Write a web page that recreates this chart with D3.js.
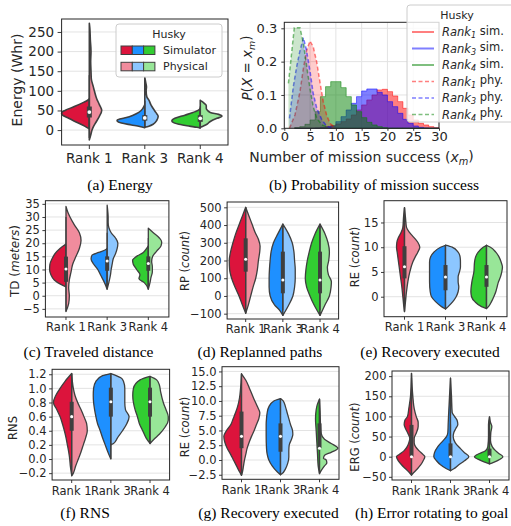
<!DOCTYPE html>
<html>
<head>
<meta charset="utf-8">
<script src="https://cdn.jsdelivr.net/npm/d3@7"></script>
<style>
  body { margin: 0; background: #fff; }
  text { font-family: "DejaVu Sans", sans-serif; fill: #262626; }
  text.cap { font-family: "Liberation Serif", "Times New Roman", serif; fill: #000; font-size: 15.5px; }
</style>
</head>
<body>
<svg id="fig" width="511" height="526"></svg>
<script>
const ranks = ["Rank 1", "Rank 3", "Rank 4"];
const simColors = ["#dc143c", "#1e90ff", "#32cd32"];
const phyColors = ["#f08c9d", "#8cc6ff", "#98e698"];
const histColors = ["#ff0000", "#0000ff", "#008000"];
const edge = "#3f3f3f";

// violin halves: [value, relative density] from bottom to top, one list per rank
// boxes: [whisker low, q1, median, q3, whisker high]

// (a) Energy (Whr)
const energySim = [
  [[3,0],[10,14],[20,38],[30,62],[38,80],[43,83],[47,80],[50,73],[60,45],[70,19],[76,5],[80,0]],
  [[6,0],[9,15],[13,40],[18,70],[22,82],[25,83],[28,75],[32,55],[38,35],[45,18],[55,6],[65,0]],
  [[5,0],[7,10],[10,32],[15,64],[19,80],[23,85],[27,82],[30,76],[38,46],[47,15],[52,3],[55,0]]
];
const energyPhy = [
  [[-25,0],[-10,5],[0,8],[10,13],[20,20],[35,30],[50,37],[65,30],[80,22],[100,15],[110,12],[130,6],[150,5],[175,4],[200,5],[230,3],[260,1.5],[272,0]],
  [[7,0],[10,12],[15,25],[25,36],[35,40],[45,33],[55,25],[65,18],[75,13],[85,6],[100,4],[110,5],[120,3],[134,0]],
  [[7,0],[10,8],[15,20],[22,30],[30,50],[35,65],[40,55],[45,30],[50,22],[55,18],[62,18],[68,12],[73,5],[76,0]]
];
const energyBox = [[-20,32,46,60,140],[8,24,31,38,75],[8,21,30,38,60]];

// (b) probability of mission success
const simBins = [2,3,4,5,6,7,8,9,10,11,12,13,14,15,16,17,18,19,20,21,22,23,24,25,26,27,28,29];
const rank1Sim = [0,0,0,0,0.001,0.003,0.005,0.008,0.013,0.02,0.028,0.04,0.055,0.07,0.085,0.1,0.115,0.117,0.11,0.097,0.08,0.06,0.04,0.025,0.015,0.01,0.005,0.002];
const rank3Sim = [0,0,0,0,0.001,0.002,0.004,0.007,0.02,0.035,0.055,0.075,0.095,0.112,0.118,0.118,0.108,0.1,0.08,0.065,0.045,0.027,0.015,0.007,0.003,0.001,0,0];
const rank4Sim = [0.002,0.005,0.012,0.025,0.05,0.095,0.125,0.14,0.14,0.122,0.095,0.07,0.05,0.032,0.018,0.01,0.005,0.002,0,0,0,0,0,0,0,0,0,0];
const rank1PhyX = [1,2.07,3.04,3.7,4.35,4.98,5.6,6.27,6.9,7.55,8.2,8.85,9.8];
const rank1PhyP = [0,0.04,0.11,0.18,0.235,0.262,0.245,0.2,0.14,0.08,0.04,0.015,0.003];
const rank3PhyX = [1,1.75,2.4,3.0,3.7,4.3,5.0,5.6,6.3,7.3,8.2,9.5];
const rank3PhyP = [0.03,0.125,0.185,0.23,0.272,0.235,0.17,0.105,0.06,0.025,0.007,0];
const rank4PhyX = [0.8,1.94,3.04,3.7,4.3,4.97,5.6,6.3,7.3,8.5];
const rank4PhyP = [0.135,0.302,0.302,0.255,0.19,0.12,0.065,0.03,0.01,0.003];
const histXTicks = [0,5,10,15,20,25,30];
const histYTicks = [0,0.1,0.2,0.3];

// (c) Traveled distance
const tdSim = [
  [[3.4,0],[4.5,18],[6,35],[8,45],[10,49],[12,48],[14,42],[16,33],[18,18],[19.7,0]],
  [[2.5,0],[5,8],[8,20],[10,28],[12,40],[14,48],[15.5,45],[16.5,25],[17.5,5],[18,0]],
  [[2.5,0],[5,12],[6.5,28],[8,25],[10,35],[12,45],[13.5,47],[15,35],[16.5,15],[18,5],[19,0]]
];
const tdPhy = [
  [[-6,0],[-3,8],[0,10],[3,8],[6,10],[9,15],[12,20],[15,30],[18,40],[21,45],[24,40],[27,25],[30,12],[32,5],[34,0]],
  [[2.5,0],[5,5],[8,10],[10,12],[12,15],[14,18],[16,25],[18,30],[20,32],[22,25],[24,12],[26,5],[28,3],[30,3],[32,2],[34.5,0]],
  [[2.5,0],[5,5],[7,8],[9,12],[11,12],[13,10],[15,13],[17,25],[19,38],[20.5,40],[22,33],[24,15],[25.7,0]]
];
const tdBox = [[-6,5.3,10.2,14.9,30],[3,9.5,13.2,15,24],[3,9.5,12.3,15,22]];

// (d) Replanned paths
const rpSim = [
  [[-98,0],[-50,10],[0,20],[50,32],[100,42],[150,48],[200,49],[250,45],[300,38],[350,30],[400,20],[450,10],[500,0]],
  [[-110,0],[-80,10],[-50,25],[0,38],[50,41],[100,41],[150,40],[200,38],[250,35],[300,28],[350,15],[405,0]],
  [[-110,0],[-50,18],[0,30],[50,40],[100,44],[150,42],[200,38],[250,32],[300,25],[350,15],[405,0]]
];
const rpPhy = [
  [[-98,0],[-50,8],[0,15],[50,22],[100,30],[150,35],[200,38],[250,42],[280,43],[320,38],[360,28],[400,20],[450,10],[500,0]],
  [[-110,0],[-50,18],[0,30],[50,35],[100,37],[150,37],[200,35],[250,33],[300,28],[350,17],[405,0]],
  [[-110,0],[-50,15],[0,28],[50,33],[80,34],[120,25],[160,22],[200,26],[250,28],[300,24],[350,15],[405,0]]
];
const rpBox = [[-98,137,207,325,500],[-80,15,90,250,400],[-80,15,90,250,400]];

// (e) Recovery executed
const reSim = [
  [[-3,0],[-2,2],[0,5],[2,8],[4,12],[6,16],[8,20],[9,22],[10,24],[11,23],[12,18],[13,10],[14,5],[16,3],[18,0]],
  [[-2.5,0],[-2,12],[-1,30],[0,42],[1,46],[3,48],[5,48],[7,48],[8,45],[9,35],[10,15],[10.4,0]],
  [[-2.4,0],[-2,15],[-1,35],[0,45],[1,47],[3,44],[5,38],[7,36],[8,33],[9,25],[10,10],[10.4,0]]
];
const rePhy = [
  [[-3,0],[-1,3],[1,6],[3,10],[5,16],[7,25],[8,32],[9,40],[10,46],[11,40],[12,28],[13,15],[14,6],[16,3],[18,0]],
  [[-2.5,0],[-2,8],[-1,22],[0,32],[1,38],[2,40],[3,38],[4,38],[5,42],[6,45],[7,45],[8,44],[9,38],[10,20],[10.4,0]],
  [[-2.4,0],[-2,6],[-1,15],[0,22],[1,28],[2,32],[3,36],[4,42],[5,46],[6,48],[7,44],[8,38],[9,28],[10,12],[10.4,0]]
];
const reBox = [[-3,3.7,6.05,10.2,18],[-2.5,1.3,4,6.4,10.4],[-2.4,2,4,6.4,10.4]];

// (f) RNS
const rnsSim = [
  [[-0.23,0],[-0.1,4],[0,6],[0.1,9],[0.2,13],[0.3,17],[0.4,22],[0.5,28],[0.6,35],[0.7,45],[0.8,55],[0.9,48],[1.0,35],[1.1,20],[1.21,0]],
  [[0,0],[0.1,9],[0.2,17],[0.3,25],[0.4,32],[0.5,40],[0.6,45],[0.7,49],[0.8,52],[0.9,53],[1.0,52],[1.1,45],[1.18,25],[1.21,0]],
  [[0.22,0],[0.3,12],[0.4,22],[0.5,32],[0.6,38],[0.7,45],[0.8,50],[0.9,52],[1.0,50],[1.12,30],[1.17,0]]
];
const rnsPhy = [
  [[-0.24,0],[-0.2,5],[-0.1,12],[0,20],[0.1,28],[0.2,35],[0.3,42],[0.4,47],[0.5,45],[0.6,37],[0.7,28],[0.8,18],[0.9,10],[1.0,5],[1.1,2],[1.21,0]],
  [[0.2,0],[0.22,8],[0.3,20],[0.4,35],[0.5,48],[0.6,55],[0.7,44],[0.8,42],[0.9,42],[1.0,42],[1.1,38],[1.15,30],[1.21,0]],
  [[0.22,0],[0.28,12],[0.35,28],[0.45,45],[0.55,55],[0.6,55],[0.7,48],[0.8,40],[0.95,32],[1.05,28],[1.12,20],[1.17,0]]
];
const rnsBox = [[-0.23,0.4,0.6,0.81,1.21],[0,0.6,0.81,1.01,1.21],[0.22,0.6,0.81,1.01,1.17]];

// (g) Recovery executed
const re2Sim = [
  [[-2.6,0],[-2,6],[-1,15],[0,24],[1,33],[2,43],[3,50],[4,53],[5,45],[6,32],[7,25],[8,18],[9,12],[10.5,6],[12,3],[14.6,0]],
  [[-2.5,0],[-2,10],[-1,25],[0,35],[1,40],[2,42],[4,43],[6,43],[7,42],[8,40],[9,35],[10,20],[10.4,0]],
  [[-2.3,0],[-1,4],[1,6],[3,8],[5,10],[7,12],[8.5,10],[9.5,6],[10.3,0]]
];
const re2Phy = [
  [[-2.6,0],[-2,3],[-1,6],[0,9],[1,13],[2,17],[3,23],[4,30],[5,38],[6,45],[7,52],[8,55],[9,48],[10.5,36],[12,25],[13.5,13],[14.6,0]],
  [[-2.5,0],[-2.3,5],[-1.5,15],[-0.5,22],[0.5,25],[1.5,25],[2.5,26],[3.5,33],[4.3,37],[5,36],[6,30],[7,25],[8,20],[9,15],[10,8],[10.4,0]],
  [[-2.3,0],[-1.8,5],[-1,15],[-0.5,22],[0,20],[0.3,12],[0.8,15],[1.3,35],[2.0,55],[2.8,35],[3.5,15],[4.5,5],[6,3],[8,2],[10.3,0]]
];
const re2Box = [[-2.6,2,4,8.2,14.6],[-2.5,1.4,4,6.2,10.4],[-2.3,2,2,6.2,10.3]];

// (h) Error rotating to goal
const ergSim = [
  [[-46,0],[-40,6],[-30,18],[-20,30],[-10,40],[0,45],[5,38],[15,22],[25,13],[35,8],[45,5],[60,12],[70,18],[80,22],[90,20],[100,12],[120,8],[150,3],[207,0]],
  [[-35,0],[-30,12],[-20,30],[-10,42],[0,50],[10,48],[25,38],[40,22],[50,12],[60,8],[80,7],[100,6],[150,3],[195,0]],
  [[-18,0],[-14,12],[-8,30],[0,45],[8,30],[15,12],[25,5],[50,3],[80,3],[99,0]]
];
const ergPhy = [
  [[-46,0],[-40,6],[-30,18],[-20,28],[-10,35],[0,40],[5,35],[15,22],[25,12],[35,8],[45,8],[60,15],[75,20],[85,20],[100,14],[120,8],[150,4],[207,0]],
  [[-35,0],[-30,10],[-20,25],[-10,42],[0,55],[10,42],[20,30],[35,14],[50,8],[60,10],[70,16],[80,22],[90,20],[100,12],[110,5],[150,3],[195,0]],
  [[-18,0],[-14,12],[-8,28],[0,40],[8,28],[15,18],[25,8],[40,3],[60,4],[75,7],[85,3],[99,0]]
];
const ergBox = [[-46,0,0,79,195],[-35,0,0,33,80],[-18,0,0,20,50]];

const svg = d3.select("#fig");

function styleAxis(a, fs) {
  a.select(".domain").remove();
  a.attr("font-family", null).attr("font-size", null);
  a.selectAll(".tick line").attr("stroke", "#262626").attr("stroke-width", 0.9);
  a.selectAll(".tick text").style("font-size", fs + "px");
}

// label parts: [text, italic, sub]
function richText(t, parts) {
  parts.forEach(([s, it, sub]) => {
    const sp = t.append("tspan").text(s);
    if (it) sp.style("font-style", "italic");
    if (sub) sp.style("font-size", "0.7em").attr("dy", "0.3em");
    else if (t.property("__sub")) sp.attr("dy", "-0.3em");
    t.property("__sub", !!sub);
  });
  return t;
}

function caption(x, y, s, anchor) {
  svg.append("text").attr("class", "cap").attr("x", x).attr("y", y)
    .attr("text-anchor", anchor || "middle").text(s);
}

function violinPanel(c) {
  const g = svg.append("g");
  const x = d3.scaleBand().domain(ranks).range([c.left, c.right]);
  const y = d3.scaleLinear().domain(c.yDomain).range([c.bottom, c.top]);
  const half = x.bandwidth() / 2;
  const w = d3.scaleLinear().domain([0, c.densMax]).range([0, half]);

  g.append("g").selectAll("line").data(c.yTicks).join("line")
    .attr("x1", c.left).attr("x2", c.right)
    .attr("y1", d => y(d)).attr("y2", d => y(d))
    .attr("stroke", "#e3e3e3").attr("stroke-width", 1);

  ranks.forEach((r, i) => {
    const cx = x(r) + half;
    [[c.sim[i], -1, simColors[i]], [c.phy[i], 1, phyColors[i]]].forEach(([pts, side, col]) => {
      const area = d3.area().curve(d3.curveMonotoneY)
        .y(d => y(d[0])).x0(cx).x1(d => cx + side * w(d[1]));
      g.append("path").attr("d", area(pts)).attr("fill", col)
        .attr("stroke", edge).attr("stroke-width", c.lw).attr("stroke-linejoin", "round");
    });
    const [lo, q1, med, q3, hi] = c.box[i];
    g.append("line").attr("x1", cx).attr("x2", cx).attr("y1", y(lo)).attr("y2", y(hi))
      .attr("stroke", edge).attr("stroke-width", c.lw * 0.9);
    g.append("rect").attr("x", cx - c.boxW / 2).attr("width", c.boxW)
      .attr("y", y(q3)).attr("height", Math.max(1, y(q1) - y(q3))).attr("fill", edge);
    g.append("circle").attr("cx", cx).attr("cy", y(med)).attr("r", c.boxW * 0.38).attr("fill", "#fff");
  });

  g.append("rect").attr("x", c.left).attr("y", c.top)
    .attr("width", c.right - c.left).attr("height", c.bottom - c.top)
    .attr("fill", "none").attr("stroke", "#262626").attr("stroke-width", 1);

  const ax = g.append("g").attr("transform", `translate(0,${c.bottom})`)
    .call(d3.axisBottom(x).tickSize(c.tick).tickPadding(c.xPad));
  styleAxis(ax, c.fs);
  const ay = g.append("g").attr("transform", `translate(${c.left},0)`)
    .call(d3.axisLeft(y).tickValues(c.yTicks).tickFormat(d3.format(c.fmt)).tickSize(c.tick).tickPadding(c.yPad));
  styleAxis(ay, c.fs);

  const t = g.append("text").attr("transform", `translate(${c.labX},${c.labY}) rotate(-90)`)
    .attr("text-anchor", "middle").style("font-size", c.labFs + "px");
  richText(t, c.ylabel);
}

// ---------- (a) Energy ----------
violinPanel({
  left: 61.6, right: 228, top: 19, bottom: 145, yDomain: [-38, 283],
  yTicks: [0, 50, 100, 150, 200, 250], fmt: "d", densMax: 83,
  sim: energySim, phy: energyPhy, box: energyBox,
  lw: 1.6, boxW: 5, tick: 4, xPad: 4.4, yPad: 3.5, fs: 13.5,
  labX: 22, labY: 80, labFs: 14, ylabel: [["Energy (Whr)"]]
});

// legend (a)
{
  const lg = svg.append("g");
  lg.append("rect").attr("x", 116).attr("y", 24).attr("width", 106).attr("height", 53).attr("rx", 3)
    .attr("fill", "#fff").attr("fill-opacity", 0.8).attr("stroke", "#cccccc");
  lg.append("text").attr("x", 169).attr("y", 37.5).attr("text-anchor", "middle").style("font-size", "11px").text("Husky");
  [["Simulator", simColors], ["Physical", phyColors]].forEach(([lab, cols], j) => {
    cols.forEach((col, i) => {
      lg.append("rect").attr("x", 121 + i * 11.3).attr("y", 46 + j * 16.3).attr("width", 11.3).attr("height", 8.5)
        .attr("fill", col).attr("stroke", edge).attr("stroke-width", 1);
    });
    lg.append("text").attr("x", 163).attr("y", 54 + j * 16.3).style("font-size", "11px").text(lab);
  });
}
caption(120, 190, "(a) Energy");

// ---------- (b) Probability of mission success ----------
{
  const g = svg.append("g");
  const L = 284.3, R = 439, T = 22.3, B = 128.3;
  const hx = d3.scaleLinear().domain([0, 30]).range([L, R]);
  const hy = d3.scaleLinear().domain([0, 0.318]).range([B, T]);

  g.append("g").selectAll("line").data(histYTicks).join("line")
    .attr("x1", L).attr("x2", R).attr("y1", d => hy(d)).attr("y2", d => hy(d))
    .attr("stroke", "#e3e3e3");
  g.append("g").selectAll("line").data(histXTicks).join("line")
    .attr("x1", d => hx(d)).attr("x2", d => hx(d)).attr("y1", T).attr("y2", B)
    .attr("stroke", "#e3e3e3");

  const sims = [rank1Sim, rank3Sim, rank4Sim];
  sims.forEach((vals, i) => {
    const pts = simBins.map((k, j) => [k, vals[j]]);
    pts.push([simBins[simBins.length - 1] + 1, 0]);
    const area = d3.area().curve(d3.curveStepAfter)
      .x(d => hx(d[0])).y0(hy(0)).y1(d => hy(d[1]));
    g.append("path").attr("d", area(pts)).attr("fill", histColors[i]).attr("fill-opacity", 0.5)
      .attr("stroke", histColors[i]).attr("stroke-opacity", 0.5).attr("stroke-width", 1);
  });

  const phys = [[rank1PhyX, rank1PhyP], [rank3PhyX, rank3PhyP], [rank4PhyX, rank4PhyP]];
  phys.forEach(([xs, ps], i) => {
    const pts = xs.map((v, j) => [v, ps[j]]);
    const area = d3.area().x(d => hx(d[0])).y0(hy(0)).y1(d => hy(d[1]));
    g.append("path").attr("d", area(pts)).attr("fill", histColors[i]).attr("fill-opacity", 0.2);
    const line = d3.line().x(d => hx(d[0])).y(d => hy(d[1]));
    g.append("path").attr("d", line(pts)).attr("fill", "none").attr("stroke", histColors[i])
      .attr("stroke-opacity", 0.5).attr("stroke-width", 1.5).attr("stroke-dasharray", "4,2.5");
  });

  g.append("rect").attr("x", L).attr("y", T).attr("width", R - L).attr("height", B - T)
    .attr("fill", "none").attr("stroke", "#262626");

  const ax = g.append("g").attr("transform", `translate(0,${B})`)
    .call(d3.axisBottom(hx).tickValues(histXTicks).tickSize(2.5).tickPadding(1.3));
  styleAxis(ax, 13);
  const ay = g.append("g").attr("transform", `translate(${L},0)`)
    .call(d3.axisLeft(hy).tickValues(histYTicks).tickFormat(d3.format(".1f")).tickSize(3).tickPadding(4));
  styleAxis(ay, 13);

  richText(g.append("text").attr("x", 361.5).attr("y", 162).attr("text-anchor", "middle").style("font-size", "14px"),
    [["Number of mission success ("], ["x", true], ["m", true, true], [")"]]);
  richText(g.append("text").attr("transform", "translate(252,68) rotate(-90)").attr("text-anchor", "middle").style("font-size", "13.5px"),
    [["P", true], ["("], ["X", true], [" = "], ["x", true], ["m", true, true], [")"]]);

  // legend (b)
  const lg = svg.append("g");
  lg.append("rect").attr("x", 407).attr("y", 5).attr("width", 112).attr("height", 117).attr("rx", 3)
    .attr("fill", "#fff").attr("fill-opacity", 0.8).attr("stroke", "#cccccc");
  lg.append("text").attr("x", 457).attr("y", 19).attr("text-anchor", "middle").style("font-size", "11px").text("Husky");
  const items = [
    [0, "1", "sim.", null], [1, "3", "sim.", null], [2, "4", "sim.", null],
    [0, "1", "phy.", "4,2.5"], [1, "3", "phy.", "4,2.5"], [2, "4", "phy.", "4,2.5"]
  ];
  items.forEach(([ci, sub, kind, dash], k) => {
    const yy = 32 + k * 16.5;
    lg.append("line").attr("x1", 412).attr("x2", 434).attr("y1", yy).attr("y2", yy)
      .attr("stroke", histColors[ci]).attr("stroke-opacity", 0.5)
      .attr("stroke-width", dash ? 1.5 : 2).attr("stroke-dasharray", dash);
    richText(lg.append("text").attr("x", 442).attr("y", yy + 4).style("font-size", "11.5px"),
      [["Rank", true], [sub, true, true], [" " + kind]]);
  });
}
caption(374, 190, "(b) Probability of mission success");

// ---------- row 2 ----------
violinPanel({
  left: 45.4, right: 168.9, top: 200.7, bottom: 317, yDomain: [-8.1, 36.2],
  yTicks: [-5, 0, 5, 10, 15, 20, 25, 30, 35], fmt: "d", densMax: 61.5,
  sim: tdSim, phy: tdPhy, box: tdBox,
  lw: 1.3, boxW: 4, tick: 3, xPad: 2.8, yPad: 2.5, fs: 11.5,
  labX: 19, labY: 261, labFs: 12, ylabel: [["TD ("], ["meters", true], [")"]]
});
caption(88.5, 357, "(c) Traveled distance");

violinPanel({
  left: 227.1, right: 338.6, top: 202, bottom: 319, yDomain: [-130, 530],
  yTicks: [-100, 0, 100, 200, 300, 400, 500], fmt: "d", densMax: 55.5,
  sim: rpSim, phy: rpPhy, box: rpBox,
  lw: 1.3, boxW: 4, tick: 3, xPad: 2.8, yPad: 2.5, fs: 11.5,
  labX: 189, labY: 261, labFs: 11.5, ylabel: [["RP ("], ["count", true], [")"]]
});
caption(260, 357, "(d) Replanned paths");

violinPanel({
  left: 384, right: 507, top: 200.7, bottom: 316.7, yDomain: [-4.04, 19.4],
  yTicks: [0, 5, 10, 15], fmt: "d", densMax: 61.7,
  sim: reSim, phy: rePhy, box: reBox,
  lw: 1.3, boxW: 4, tick: 3, xPad: 2.8, yPad: 2.5, fs: 11.5,
  labX: 359, labY: 257, labFs: 11.5, ylabel: [["RE ("], ["count", true], [")"]]
});
caption(430, 357, "(e) Recovery executed");

// ---------- row 3 ----------
violinPanel({
  left: 52.1, right: 169.6, top: 369.3, bottom: 480, yDomain: [-0.297, 1.27],
  yTicks: [-0.2, 0, 0.2, 0.4, 0.6, 0.8, 1.0, 1.2], fmt: ".1f", densMax: 59,
  sim: rnsSim, phy: rnsPhy, box: rnsBox,
  lw: 1.3, boxW: 4, tick: 3, xPad: 3.8, yPad: 2.5, fs: 11.5,
  labX: 17, labY: 428, labFs: 11.5, ylabel: [["RNS"]]
});
caption(85, 518, "(f) RNS");

violinPanel({
  left: 222, right: 339, top: 366.7, bottom: 479.3, yDomain: [-3.27, 15.8],
  yTicks: [-2.5, 0, 2.5, 5, 7.5, 10, 12.5, 15], fmt: ".1f", densMax: 58.5,
  sim: re2Sim, phy: re2Phy, box: re2Box,
  lw: 1.3, boxW: 4, tick: 3, xPad: 3.8, yPad: 2.5, fs: 11.5,
  labX: 189, labY: 427, labFs: 11.5, ylabel: [["RE ("], ["count", true], [")"]]
});
caption(268.5, 518, "(g) Recovery executed");

violinPanel({
  left: 392, right: 509, top: 371, bottom: 480, yDomain: [-57.9, 212.8],
  yTicks: [-50, 0, 50, 100, 150, 200], fmt: "d", densMax: 58.5,
  sim: ergSim, phy: ergPhy, box: ergBox,
  lw: 1.3, boxW: 4, tick: 3, xPad: 3.8, yPad: 2.5, fs: 11.5,
  labX: 359, labY: 437, labFs: 11.5, ylabel: [["ERG ("], ["count", true], [")"]]
});
caption(355, 518, "(h) Error rotating to goal", "start");
</script>
</body>
</html>
